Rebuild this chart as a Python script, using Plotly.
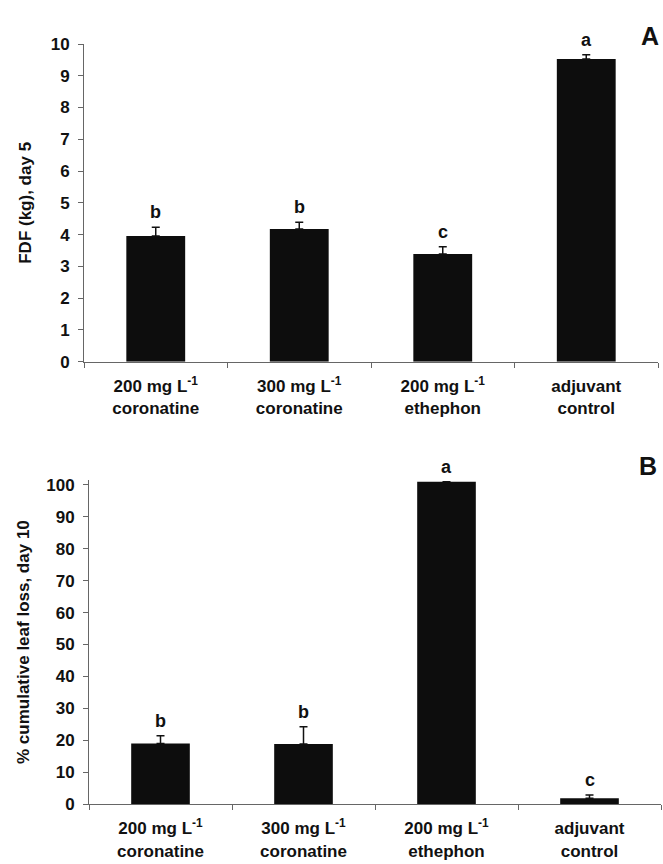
import plotly.graph_objects as go

# ---- data ----
categories = ["200 mg L<sup>-1</sup><br>coronatine",
              "300 mg L<sup>-1</sup><br>coronatine",
              "200 mg L<sup>-1</sup><br>ethephon",
              "adjuvant<br>control"]
fdf_values = [3.96, 4.18, 3.39, 9.53]
fdf_errors = [0.27, 0.21, 0.23, 0.13]
fdf_letters = ["b", "b", "c", "a"]

leaf_values = [19.0, 18.8, 101.0, 1.8]
leaf_errors = [2.4, 5.4, 0.0, 1.0]
leaf_letters = ["b", "b", "a", "c"]

fdf_ticks = list(range(0, 11, 1))
leaf_ticks = list(range(0, 101, 10))

FONT = "Arial, Liberation Sans, sans-serif"
W, H = 663, 864

def px_x(p):
    return p / W

def px_y(p):
    return 1 - p / H

fig = go.Figure()

fig.add_trace(go.Bar(
    x=categories, y=fdf_values, xaxis="x", yaxis="y",
    marker=dict(color="#0d0d0d", line=dict(width=0)),
    error_y=dict(type="data", symmetric=False, array=fdf_errors,
                 arrayminus=[0] * len(fdf_errors), color="#111",
                 thickness=1.5, width=4),
    showlegend=False, hoverinfo="skip"))

fig.add_trace(go.Bar(
    x=categories, y=leaf_values, xaxis="x2", yaxis="y2",
    marker=dict(color="#0d0d0d", line=dict(width=0)),
    error_y=dict(type="data", symmetric=False, array=leaf_errors,
                 arrayminus=[0] * len(leaf_errors), color="#111",
                 thickness=1.5, width=4),
    showlegend=False, hoverinfo="skip"))

axis_common = dict(showline=True, linecolor="#666", linewidth=1,
                   ticks="outside", ticklen=5, tickcolor="#666",
                   showgrid=False, zeroline=False, automargin=False)

tickfont = dict(family=FONT, size=17, color="#111", weight=700)
titlefont = dict(family=FONT, size=17, color="#111", weight=700)

fig.update_layout(
    width=W, height=H,
    margin=dict(l=0, r=0, t=0, b=0, autoexpand=False),
    paper_bgcolor="white", plot_bgcolor="white",
    bargap=0.59,
    font=dict(family=FONT, size=17, color="#111"),
    xaxis=dict(domain=[px_x(84), px_x(658)], anchor="y",
               tickson="boundaries", tickfont=tickfont,
               ticklabelstandoff=9, **axis_common),
    yaxis=dict(domain=[px_y(361.7), px_y(44)], anchor="x",
               range=[0, 10], tickvals=fdf_ticks, tickfont=tickfont,
               ticklabelstandoff=5,
               title=dict(text="FDF (kg), day 5", font=titlefont, standoff=14),
               **axis_common),
    xaxis2=dict(domain=[px_x(89), px_x(661)], anchor="y2",
                tickson="boundaries", tickfont=tickfont,
                ticklabelstandoff=9, **axis_common),
    yaxis2=dict(domain=[px_y(804), px_y(480.2)], anchor="x2",
                range=[0, 101.5], tickvals=leaf_ticks, tickfont=tickfont,
                ticklabelstandoff=5,
                title=dict(text="% cumulative leaf loss, day 10", font=titlefont,
                           standoff=12),
                **axis_common),
)

annotations = []
for c, v, e, t in zip(categories, fdf_values, fdf_errors, fdf_letters):
    annotations.append(dict(x=c, y=v + e, xref="x", yref="y", text=t,
                            showarrow=False, yanchor="bottom", yshift=3,
                            font=dict(family=FONT, size=18, color="#111", weight=700)))
for c, v, e, t in zip(categories, leaf_values, leaf_errors, leaf_letters):
    annotations.append(dict(x=c, y=v + e, xref="x2", yref="y2", text=t,
                            showarrow=False, yanchor="bottom", yshift=3,
                            font=dict(family=FONT, size=18, color="#111", weight=700)))

annotations.append(dict(x=px_x(650), y=px_y(36), xref="paper", yref="paper",
                        text="A", showarrow=False, xanchor="center", yanchor="middle",
                        font=dict(family=FONT, size=25, color="#111", weight=700)))
annotations.append(dict(x=px_x(648), y=px_y(466), xref="paper", yref="paper",
                        text="B", showarrow=False, xanchor="center", yanchor="middle",
                        font=dict(family=FONT, size=25, color="#111", weight=700)))

fig.update_layout(annotations=annotations)

fig.write_html("out.html",
               config={"displayModeBar": False},
               post_script="document.body.style.margin='0';"
                           "document.body.style.overflow='hidden';")
